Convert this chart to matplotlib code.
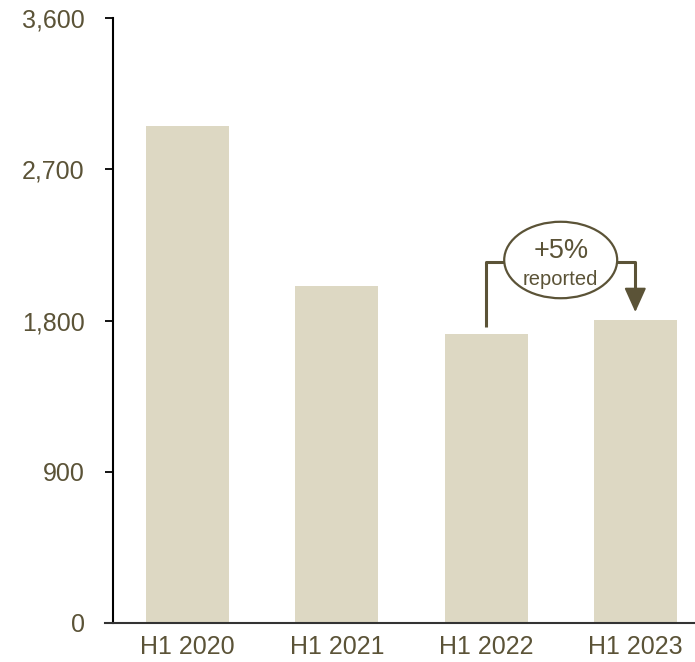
import matplotlib
matplotlib.use("Agg")
import matplotlib.pyplot as plt
from matplotlib.patches import Ellipse

plt.rcParams['font.family'] = ['Liberation Sans', 'DejaVu Sans']

categories = ["H1 2020", "H1 2021", "H1 2022", "H1 2023"]
values = [2960, 2005, 1720, 1805]
yticks = [0, 900, 1800, 2700, 3600]
ytick_labels = ["0", "900", "1,800", "2,700", "3,600"]
annot_main = "+5%"
annot_sub = "reported"

bar_color = "#ddd8c3"
text_color = "#5b5337"
line_color = "#5b5337"

fig = plt.figure(figsize=(6.95, 6.62), dpi=100)
ax = fig.add_axes([113/695, 39/662, 1 - 113/695, (623-18)/662])

x = list(range(len(categories)))
ax.bar(x, values, width=0.557, color=bar_color, zorder=2)

ax.set_xlim(-0.5, 3.4)
ax.set_ylim(0, 3600)
ax.set_yticks(yticks)
ax.set_yticklabels(ytick_labels)
ax.set_xticks(x)
ax.set_xticklabels(categories)

ax.tick_params(axis='y', direction='out', length=5.8, width=1.3, color='black',
               pad=14.5, labelsize=18, labelcolor=text_color)
ax.tick_params(axis='x', length=0, pad=9, labelsize=18, labelcolor=text_color)

for s in ['top', 'right']:
    ax.spines[s].set_visible(False)
ax.spines['left'].set_linewidth(1.5)
ax.spines['left'].set_color('black')
ax.spines['bottom'].set_linewidth(1.5)
ax.spines['bottom'].set_color('#333333')
ax.spines['bottom'].set_bounds(-0.5 - 8/149.2, 3.4)

# Annotation bracket from H1 2022 to H1 2023
i0, i1 = 2, 3
y_start = values[i0] + 40
y_top = 2150
y_tip = values[i1] + 45
cx = (i0 + i1) / 2
ell_w, ell_h = 0.757, 455
ax.plot([i0, i0, cx - ell_w/2], [y_start, y_top, y_top], color=line_color, lw=2.2,
        solid_capstyle='butt', zorder=3)
ax.plot([cx + ell_w/2, i1, i1], [y_top, y_top, y_tip + 90], color=line_color, lw=2.2,
        solid_capstyle='butt', zorder=3)
ax.annotate("", xy=(i1, y_tip), xytext=(i1, y_tip + 100),
            arrowprops=dict(arrowstyle="-|>,head_length=1.0,head_width=0.45",
                            mutation_scale=15,
                            color=line_color, lw=1.5, shrinkA=0, shrinkB=0), zorder=3)
ell = Ellipse((cx, 2160), ell_w, ell_h, facecolor='white', edgecolor=line_color,
              lw=1.6, zorder=4)
ax.add_patch(ell)
ax.text(cx, 2213, annot_main, ha='center', va='center', fontsize=19.5,
        color=text_color, zorder=5)
ax.text(cx, 2045, annot_sub, ha='center', va='center', fontsize=14.5,
        color=text_color, zorder=5)

fig.savefig("out.png", dpi=100)
